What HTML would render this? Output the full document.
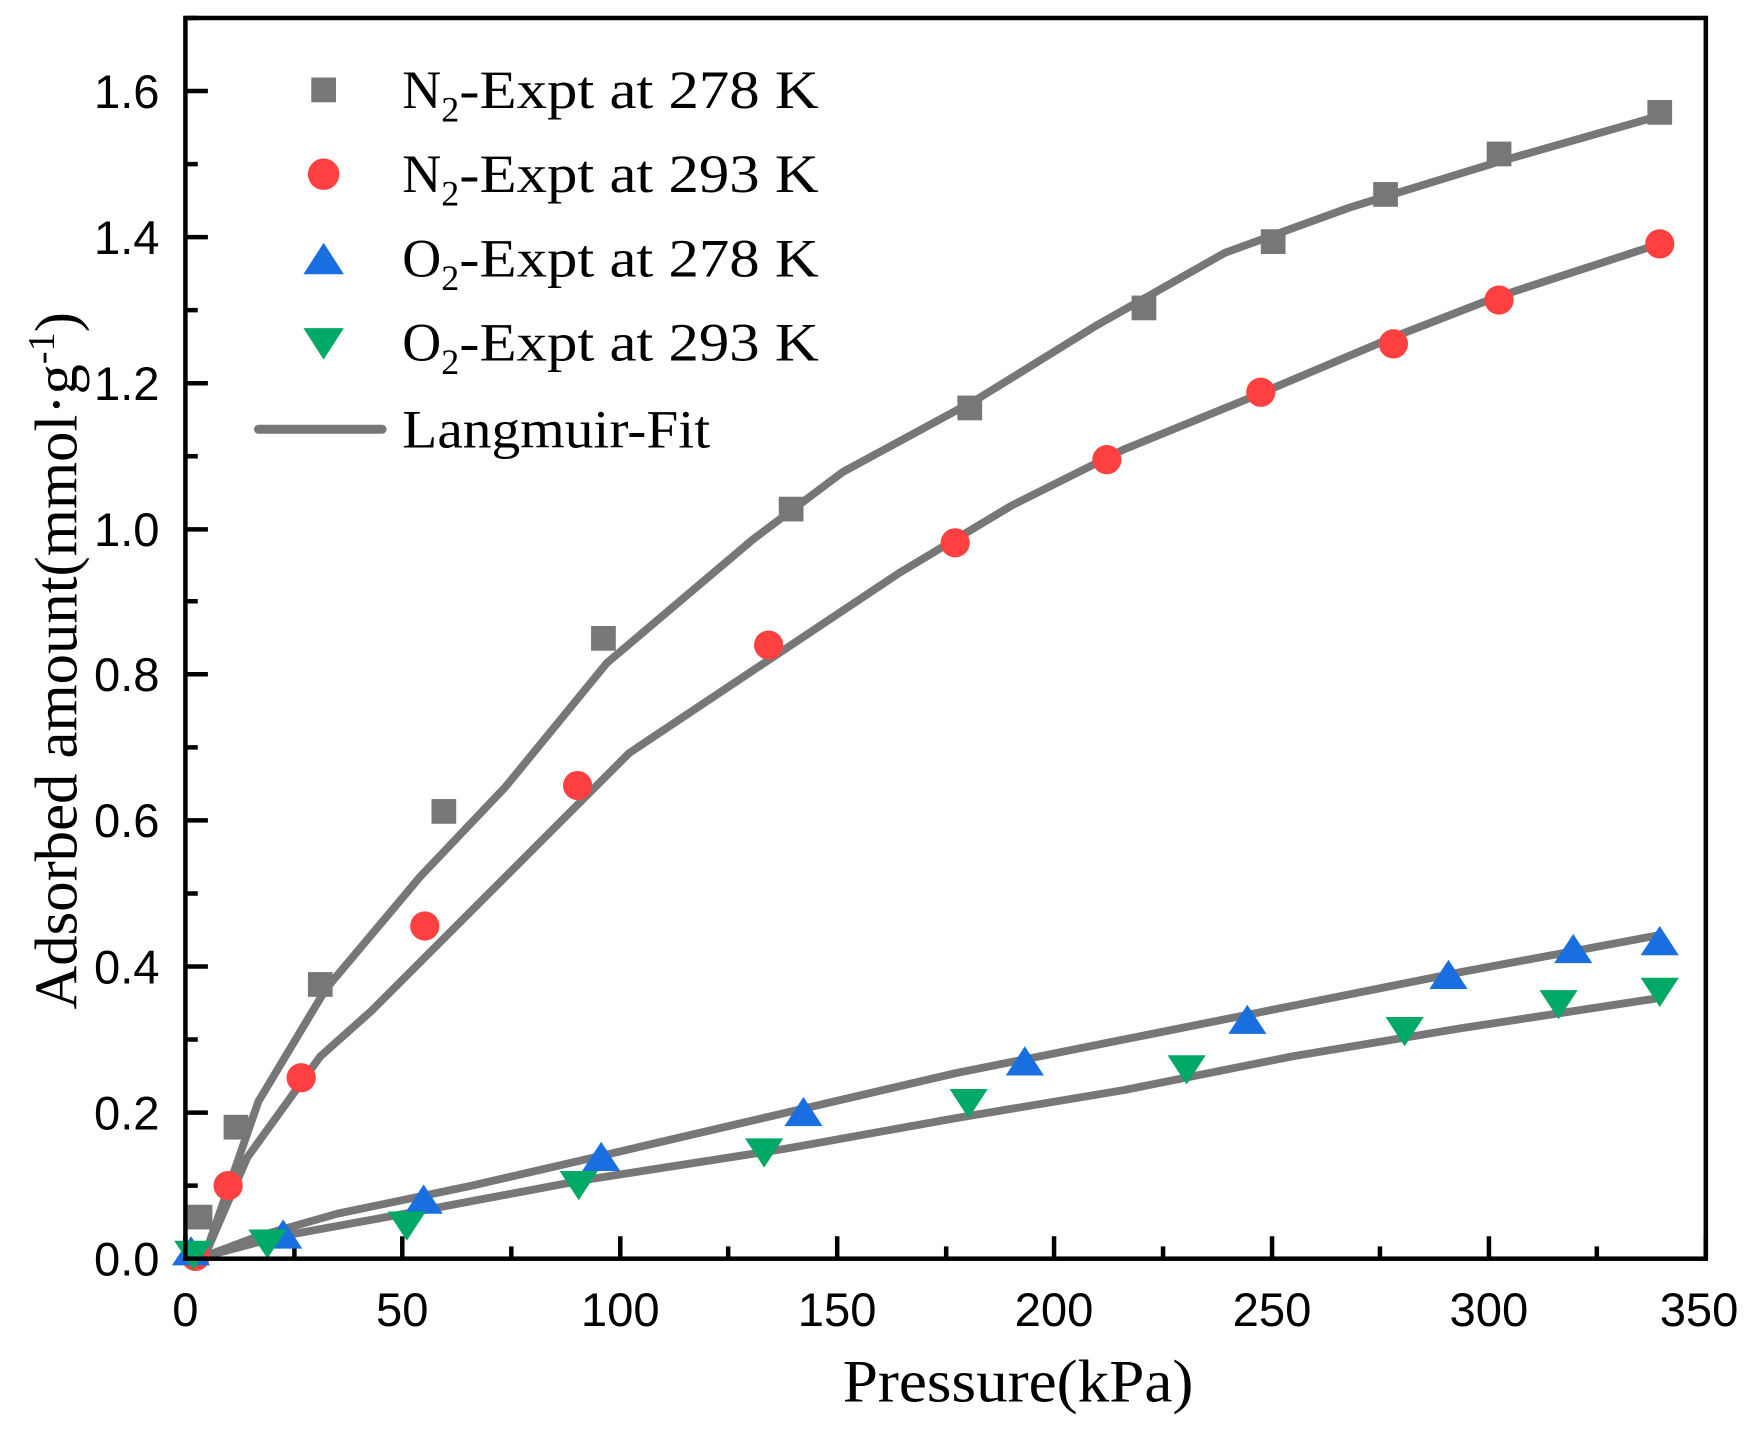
<!DOCTYPE html>
<html><head><meta charset="utf-8"><style>html,body{margin:0;padding:0;background:#fff}svg{display:block}</style></head><body>
<svg width="1762" height="1434" viewBox="0 0 1568 1276" preserveAspectRatio="none" xmlns="http://www.w3.org/2000/svg">
<rect width="1568" height="1276" fill="#fff"/>
<g stroke="#000" stroke-width="4">
<path d="M165 1120h20M165 1055h11M165 990h20M165 925h11M165 860h20M165 795h11M165 730h20M165 665h11M165 600h20M165 535h11M165 471h20M165 406h11M165 341h20M165 276h11M165 211h20M165 146h11M165 81h20M165 16h11"/>
<path d="M165 1120v-20M262 1120v-11M358 1120v-20M455 1120v-11M552 1120v-20M648 1120v-11M745 1120v-20M842 1120v-11M938 1120v-20M1035 1120v-11M1132 1120v-20M1228 1120v-11M1325 1120v-20M1421 1120v-11M1518 1120v-20"/>
</g>
<g font-family="Liberation Sans, sans-serif" font-size="42" text-anchor="end">
<text x="142" y="1135">0.0</text><text x="142" y="1005">0.2</text><text x="142" y="875">0.4</text><text x="142" y="745">0.6</text><text x="142" y="615">0.8</text><text x="142" y="486">1.0</text><text x="142" y="356">1.2</text><text x="142" y="226">1.4</text><text x="142" y="96">1.6</text>
</g>
<g font-family="Liberation Sans, sans-serif" font-size="42" text-anchor="middle">
<text x="165" y="1180">0</text><text x="358" y="1180">50</text><text x="552" y="1180">100</text><text x="745" y="1180">150</text><text x="938" y="1180">200</text><text x="1132" y="1180">250</text><text x="1325" y="1180">300</text><text x="1512" y="1180">350</text>
</g>
<text x="750" y="1247" font-family="Liberation Serif, serif" font-size="54" textLength="312" lengthAdjust="spacingAndGlyphs">Pressure(kPa)</text>
<text transform="translate(68 588) rotate(-90)" font-family="Liberation Serif, serif" font-size="54" text-anchor="middle">Adsorbed amount(mmol·g<tspan dy="-20" font-size="34">-1</tspan><tspan dy="20">)</tspan></text>
<g fill="none" stroke="#777" stroke-width="7" stroke-linejoin="round">
<polyline points="182,1118 230,980 290,880 374,780 450,700 540,590 670,480 750,420 870,355 975,290 1090,225 1200,185 1330,145 1477,103"/>
<polyline points="182,1118 220,1030 285,940 330,900 380,850 480,750 560,670 680,590 800,510 900,450 1000,400 1110,355 1240,300 1330,265 1477,217"/>
<polyline points="182,1118 230,1100 300,1080 420,1055 550,1025 700,990 850,955 1000,925 1150,895 1300,865 1477,832"/>
<polyline points="182,1118 250,1100 360,1080 520,1050 700,1022 850,995 1000,970 1150,940 1300,915 1477,888"/>
</g>
<g fill="#777">
<rect x="167" y="1072" width="22" height="22"/><rect x="199" y="992" width="22" height="22"/><rect x="274" y="865" width="22" height="22"/><rect x="384" y="711" width="22" height="22"/><rect x="526" y="557" width="22" height="22"/><rect x="693" y="442" width="22" height="22"/><rect x="852" y="352" width="22" height="22"/><rect x="1007" y="263" width="22" height="22"/><rect x="1122" y="204" width="22" height="22"/><rect x="1222" y="162" width="22" height="22"/><rect x="1323" y="126" width="22" height="22"/><rect x="1466" y="89" width="22" height="22"/>
<rect x="277" y="69" width="22" height="22"/>
</g>
<g fill="#ff4040">
<circle cx="174" cy="1118" r="13"/><circle cx="203" cy="1055" r="13"/><circle cx="268" cy="959" r="13"/><circle cx="378" cy="824" r="13"/><circle cx="514" cy="699" r="13"/><circle cx="684" cy="574" r="13"/><circle cx="850" cy="483" r="13"/><circle cx="985" cy="409" r="13"/><circle cx="1122" cy="349" r="13"/><circle cx="1240" cy="306" r="13"/><circle cx="1334" cy="267" r="13"/><circle cx="1477" cy="217" r="13"/>
<circle cx="288" cy="155" r="14"/>
</g>
<g fill="#1a6fe0">
<path d="M170 1100l-17 26h34z"/><path d="M252 1085l-17 26h34z"/><path d="M377 1054l-17 26h34z"/><path d="M535 1016l-17 26h34z"/><path d="M715 976l-17 26h34z"/><path d="M912 931l-17 26h34z"/><path d="M1110 894l-17 26h34z"/><path d="M1289 854l-17 26h34z"/><path d="M1400 831l-17 26h34z"/><path d="M1477 824l-17 26h34z"/>
<path d="M288 216l-18 28h36z"/>
</g>
<g fill="#00aa66">
<path d="M172 1130l-17 -26h34z"/><path d="M238 1120l-17 -26h34z"/><path d="M362 1104l-17 -26h34z"/><path d="M515 1068l-17 -26h34z"/><path d="M680 1039l-17 -26h34z"/><path d="M862 995l-17 -26h34z"/><path d="M1056 965l-17 -26h34z"/><path d="M1250 931l-17 -26h34z"/><path d="M1387 907l-17 -26h34z"/><path d="M1477 896l-17 -26h34z"/>
<path d="M288 320l-18 -28h36z"/>
</g>
<line x1="230" y1="382" x2="340" y2="382" stroke="#777" stroke-width="8" stroke-linecap="round"/>
<g font-family="Liberation Serif, serif" font-size="48">
<text x="358" y="96">N<tspan dy="12" font-size="32">2</tspan><tspan dy="-12" textLength="320" lengthAdjust="spacingAndGlyphs">-Expt at 278 K</tspan></text>
<text x="358" y="171">N<tspan dy="12" font-size="32">2</tspan><tspan dy="-12" textLength="320" lengthAdjust="spacingAndGlyphs">-Expt at 293 K</tspan></text>
<text x="358" y="246">O<tspan dy="12" font-size="32">2</tspan><tspan dy="-12" textLength="320" lengthAdjust="spacingAndGlyphs">-Expt at 278 K</tspan></text>
<text x="358" y="321">O<tspan dy="12" font-size="32">2</tspan><tspan dy="-12" textLength="320" lengthAdjust="spacingAndGlyphs">-Expt at 293 K</tspan></text>
<text x="358" y="398" textLength="274" lengthAdjust="spacingAndGlyphs">Langmuir-Fit</text>
</g>
<rect x="165" y="16" width="1353" height="1104" fill="none" stroke="#000" stroke-width="4"/>
</svg>
</body></html>
